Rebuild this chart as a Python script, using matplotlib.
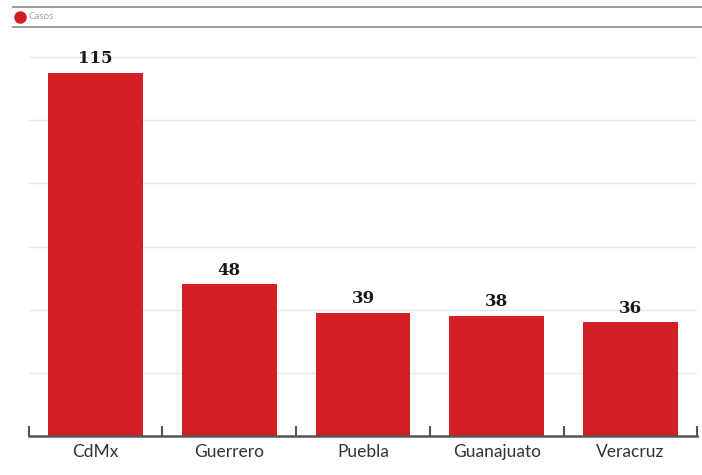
import matplotlib.pyplot as plt
from matplotlib.lines import Line2D

estados = ["CdMx", "Guerrero", "Puebla", "Guanajuato", "Veracruz"]
casos = [115, 48, 39, 38, 36]
etiquetas = ["115", "48", "39", "38", "36"]
grid_vals = [20, 40, 60, 80, 100, 120]

rojo = "#d21f26"
W, H = 702, 475

fig = plt.figure(figsize=(W / 100, H / 100), dpi=100)

# ejes en pixeles
left, right, bottom = 28.6, 697.4, 436
ax = fig.add_axes([left / W, (H - bottom) / H, (right - left) / W, (bottom - 41.4) / H])
ax.set_xlim(-0.5, 4.5)
ax.set_ylim(0, 125)

for g in grid_vals:
    ax.axhline(g, color="#e6e6e6", lw=1, zorder=0)

x = list(range(len(estados)))
ax.bar(x, casos, width=0.71, color=rojo, zorder=2)
for xi, v, t in zip(x, casos, etiquetas):
    ax.text(xi, v + 1.8, t, ha="center", va="bottom", fontsize=12,
            fontweight="heavy", family="DejaVu Serif", color="#1a1a1a")

for s in ["top", "right", "left"]:
    ax.spines[s].set_visible(False)
ax.spines["bottom"].set_color("#555555")
ax.spines["bottom"].set_linewidth(1.8)
ax.set_yticks([])
ax.set_xticks([i - 0.5 for i in range(len(estados) + 1)])
ax.set_xticklabels([])
ax.tick_params(axis="x", direction="in", length=7, width=1.5, color="#555555")
ax.set_xticks(x, minor=True)
ax.set_xticklabels(estados, minor=True, family="Lato", fontsize=12.5, color="#333333")
ax.tick_params(axis="x", which="minor", length=0, pad=6)

# cabecera con leyenda
fig.add_artist(Line2D([13 / W, 1], [1 - 6.5 / H, 1 - 6.5 / H], color="#8a8a8a", lw=1.2))
fig.add_artist(Line2D([13 / W, 1], [1 - 27 / H, 1 - 27 / H], color="#8a8a8a", lw=1.2))
fig.add_artist(Line2D([20 / W], [1 - 16.5 / H], marker="o", markersize=8, color=rojo, lw=0))
fig.text(29 / W, 1 - 16.5 / H, "Casos", fontsize=7, color="#a0a0a0", va="center", family="Lato")

fig.savefig("out.png", dpi=100)
